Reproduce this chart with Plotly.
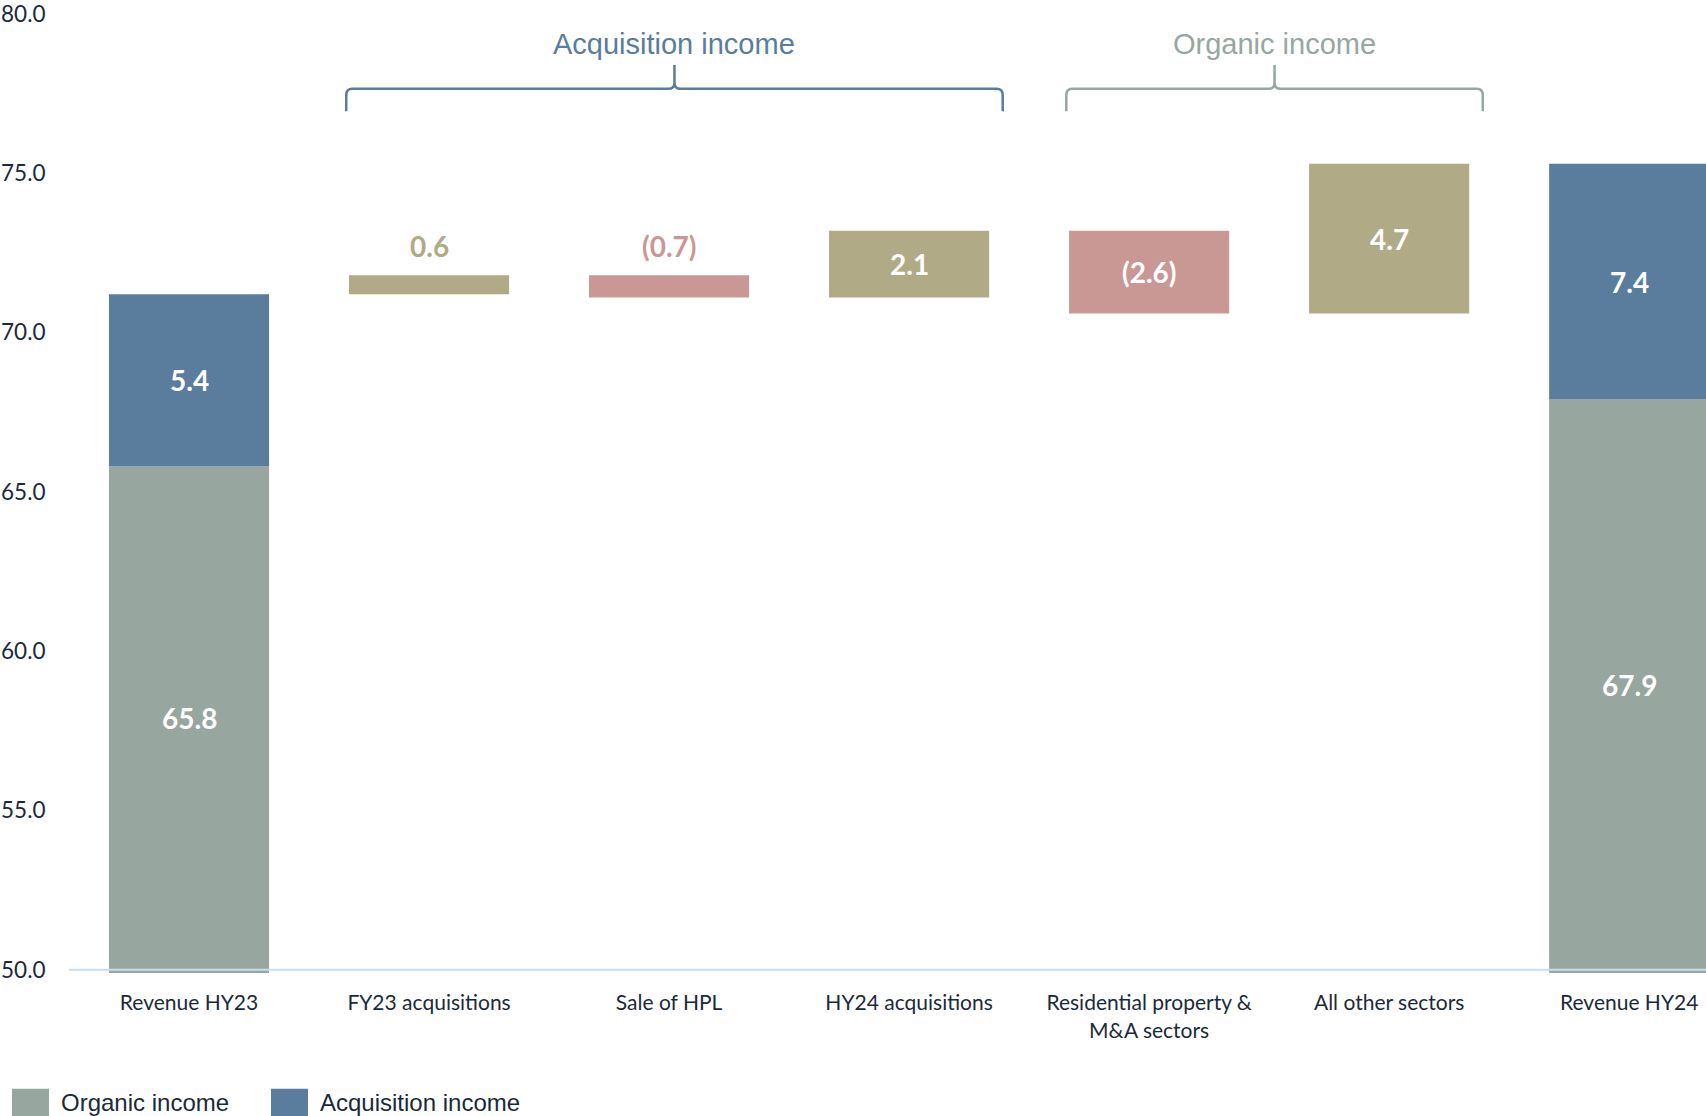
import plotly.graph_objects as go

# ---- data -------------------------------------------------------------
CATEGORIES = [
    "Revenue HY23",
    "FY23 acquisitions",
    "Sale of HPL",
    "HY24 acquisitions",
    "Residential property &<br>M&A sectors",
    "All other sectors",
    "Revenue HY24",
]
ORGANIC = [65.8, 67.9]          # Revenue HY23, Revenue HY24
ACQUISITION = [5.4, 7.4]        # Revenue HY23, Revenue HY24
STEPS = [0.6, -0.7, 2.1, -2.6, 4.7]
Y_TICKS = [50.0, 55.0, 60.0, 65.0, 70.0, 75.0, 80.0]

# ---- style ------------------------------------------------------------
W, H = 1706, 1116
ML, MR, MT, MB = 69, 0, 11, 143
C_ORG = "#97a69f"
C_ACQ = "#5a7c9d"
C_UP = "#b1aa86"
C_DOWN = "#c99894"
C_TEXT = "#1b2a3a"
C_AXIS = "#c7ddee"
NUM_FONT = "Lato"
Y_MIN = 50.0


def px_x(x):
    return (x - ML) / (W - ML - MR)


def px_y(y):
    return (H - MB - y) / (H - MT - MB)


def fmt(v):
    return f"({abs(v):.1f})" if v < 0 else f"{v:.1f}"


ends = [0, len(CATEGORIES) - 1]
start_total = ORGANIC[0] + ACQUISITION[0]

# running bases for the floating bars
bases = []
running = start_total
for s in STEPS:
    bases.append(running)
    running += s
step_x = list(range(1, 1 + len(STEPS)))

fig = go.Figure()
BW = 0.667

fig.add_trace(go.Bar(x=ends, y=ORGANIC, base=[0, 0], width=BW,
                     marker=dict(color=C_ORG, line=dict(width=0)), name="Organic income"))
fig.add_trace(go.Bar(x=ends, y=ACQUISITION, base=ORGANIC, width=BW,
                     marker=dict(color=C_ACQ, line=dict(width=0)), name="Acquisition income"))

up = [(x, s, b) for x, s, b in zip(step_x, STEPS, bases) if s >= 0]
dn = [(x, s, b) for x, s, b in zip(step_x, STEPS, bases) if s < 0]
fig.add_trace(go.Bar(x=[u[0] for u in up], y=[u[1] for u in up], base=[u[2] for u in up],
                     width=BW, marker=dict(color=C_UP, line=dict(width=0)), name="Increase"))
fig.add_trace(go.Bar(x=[d[0] for d in dn], y=[d[1] for d in dn], base=[d[2] for d in dn],
                     width=BW, marker=dict(color=C_DOWN, line=dict(width=0)), name="Decrease"))

annotations = []
lab_font = dict(family=NUM_FONT, size=28, color="white")

# labels on the two revenue bars
for x, o, a in zip(ends, ORGANIC, ACQUISITION):
    annotations.append(dict(x=x, y=(Y_MIN + o) / 2, text=f"<b>{fmt(o)}</b>", showarrow=False,
                            font=lab_font))
    annotations.append(dict(x=x, y=o + a / 2, text=f"<b>{fmt(a)}</b>", showarrow=False,
                            font=lab_font))

# labels on the floating bars
for x, s, b in zip(step_x, STEPS, bases):
    col = C_UP if s >= 0 else C_DOWN
    if abs(s) < 1:
        annotations.append(dict(x=x, y=max(b, b + s), text=f"<b>{fmt(s)}</b>", showarrow=False,
                                yanchor="bottom", yshift=10,
                                font=dict(family=NUM_FONT, size=28, color=col)))
    else:
        annotations.append(dict(x=x, y=b + s / 2, text=f"<b>{fmt(s)}</b>", showarrow=False,
                                font=lab_font))

shapes = []
# baseline at 50
shapes.append(dict(type="line", xref="x", yref="y", x0=-0.5, x1=6.4, y0=Y_MIN, y1=Y_MIN,
                   line=dict(color=C_AXIS, width=2), layer="above"))

# group brackets
BRACKETS = [("Acquisition income", 1, 3, C_ACQ), ("Organic income", 4, 5, C_ORG)]
yb, yl, yt = 76.95, 77.65, 78.4
rx, ry = 0.025, 0.2
for title, i0, i1, col in BRACKETS:
    x0, x1 = i0 - 0.345, i1 + 0.39
    m = (x0 + x1) / 2
    path = (f"M {x0},{yb} L {x0},{yl - ry} Q {x0},{yl} {x0 + rx},{yl} "
            f"L {m - rx},{yl} Q {m},{yl} {m},{yl + ry} L {m},{yt} "
            f"M {m},{yl + ry} Q {m},{yl} {m + rx},{yl} "
            f"L {x1 - rx},{yl} Q {x1},{yl} {x1},{yl - ry} L {x1},{yb}")
    shapes.append(dict(type="path", xref="x", yref="y", path=path,
                       line=dict(color=col, width=2.5)))
    annotations.append(dict(x=m, y=79.05, text=title, showarrow=False,
                            font=dict(family="Liberation Sans", size=29, color=col)))

# legend drawn by hand (large swatches)
LEGEND = [("Organic income", C_ORG, 12, 59), ("Acquisition income", C_ACQ, 271, 318)]
for name, col, sx, tx in LEGEND:
    shapes.append(dict(type="rect", xref="paper", yref="paper",
                       x0=px_x(sx), x1=px_x(sx + 37), y0=px_y(1089), y1=px_y(1118),
                       fillcolor=col, line=dict(width=0)))
    annotations.append(dict(xref="paper", yref="paper", x=px_x(tx), y=px_y(1103),
                            xanchor="left", yanchor="middle", text=name, showarrow=False,
                            font=dict(family="Liberation Sans", size=24, color=C_TEXT)))

fig.update_layout(
    width=W, height=H,
    margin=dict(l=ML, r=MR, t=MT, b=MB),
    barmode="overlay",
    showlegend=False,
    plot_bgcolor="white",
    paper_bgcolor="white",
    shapes=shapes,
    annotations=annotations,
    xaxis=dict(
        range=[-0.5, 6.32],
        tickmode="array",
        tickvals=list(range(len(CATEGORIES))),
        ticktext=CATEGORIES,
        showgrid=False, zeroline=False, showline=False,
        ticks="outside", ticklen=11, tickcolor="rgba(0,0,0,0)",
        tickfont=dict(family=NUM_FONT, size=21, color=C_TEXT),
    ),
    yaxis=dict(
        range=[49.9, 80],
        tickmode="array",
        tickvals=Y_TICKS,
        ticktext=[f"{v:.1f}" for v in Y_TICKS],
        showgrid=False, zeroline=False, showline=False,
        ticks="outside", ticklen=18, tickcolor="rgba(0,0,0,0)",
        ticklabeloverflow="allow",
        tickfont=dict(family=NUM_FONT, size=22.5, color=C_TEXT),
    ),
)

fig.write_html("out.html", config={"displayModeBar": False},
               post_script="document.body.style.margin='0';")
